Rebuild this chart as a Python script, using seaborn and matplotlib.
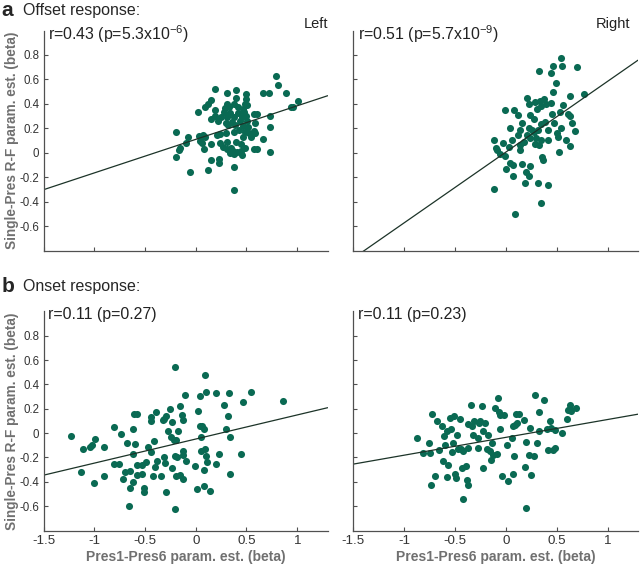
import matplotlib
matplotlib.use("Agg")
import matplotlib.pyplot as plt
import numpy as np
import seaborn as sns

sns.set_theme(style="ticks")
plt.rcParams['font.family'] = ['Liberation Sans', 'DejaVu Sans']
plt.rcParams['mathtext.fontset'] = 'custom'
plt.rcParams['mathtext.rm'] = 'Liberation Sans'
plt.rcParams['mathtext.it'] = 'Liberation Sans:italic'

# offset response, left hemisphere
off_left_x = [0.795, 0.812, 0.894, 1.009, 0.937, 0.96, 0.661, 0.72, 0.187, 0.312,
              0.397, 0.397, 0.499, 0.496, 0.489, 0.147, 0.121, 0.095, 0.022, 0.312,
              0.286, 0.332, 0.378, 0.414, 0.463, 0.509, 0.187, 0.279, 0.338, 0.417,
              0.476, 0.193, 0.253, 0.312, 0.374, 0.457, 0.499, 0.572, 0.605, 0.73,
              0.151, 0.22, 0.295, 0.358, 0.437, 0.506, 0.588, 0.318, 0.391, 0.463,
              0.513, 0.736, -0.195, -0.08, 0.029, 0.072, 0.088, 0.21, 0.243, 0.299,
              0.381, 0.424, 0.489, 0.529, 0.572, 0.588, 0.466, 0.549, 0.664, -0.159,
              -0.168, -0.093, 0.042, 0.062, 0.154, 0.243, 0.309, 0.401, 0.443, 0.272,
              0.309, 0.351, 0.371, 0.404, 0.443, 0.489, 0.572, 0.605, 0.733, -0.195,
              0.082, 0.335, 0.381, 0.457, 0.147, 0.233, 0.226, -0.053, 0.118, 0.381,
              0.381]
off_left_y = [0.626, 0.556, 0.491, 0.426, 0.377, 0.377, 0.491, 0.491, 0.523, 0.488,
              0.51, 0.45, 0.48, 0.442, 0.401, 0.429, 0.396, 0.374, 0.336, 0.396,
              0.366, 0.377, 0.396, 0.374, 0.355, 0.388, 0.35, 0.334, 0.328, 0.328,
              0.334, 0.304, 0.296, 0.296, 0.293, 0.293, 0.304, 0.315, 0.32, 0.301,
              0.28, 0.263, 0.247, 0.252, 0.258, 0.26, 0.247, 0.225, 0.225, 0.22,
              0.212, 0.212, 0.168, 0.133, 0.139, 0.144, 0.128, 0.144, 0.155, 0.166,
              0.171, 0.19, 0.171, 0.166, 0.177, 0.166, 0.128, 0.128, 0.117, 0.044,
              0.022, 0.082, 0.095, 0.084, 0.074, 0.084, 0.09, 0.09, 0.076, 0.049,
              0.036, 0.041, 0.019, 0.008, 0.019, 0.041, 0.036, 0.033, 0.011, -0.032,
              0.03, 0.003, -0.005, -0.013, -0.057, -0.046, -0.086, -0.154, -0.143, -0.114,
              -0.306]

# offset response, right hemisphere
off_right_x = [0.546, 0.553, 0.461, 0.70, 0.329, 0.447, 0.49, 0.464, 0.635, 0.773,
               0.208, 0.379, 0.333, 0.283, 0.231, 0.398, 0.444, 0.349, 0.306, -0.006,
               0.08, 0.562, 0.454, 0.53, 0.608, 0.635, 0.241, 0.119, 0.28, 0.158,
               0.349, 0.388, 0.477, 0.651, 0.037, 0.136, 0.224, 0.257, 0.273, 0.313,
               0.411, 0.546, 0.503, 0.684, 0.119, 0.208, 0.241, 0.296, 0.349, 0.414,
               0.513, 0.592, -0.121, 0.06, 0.175, 0.283, 0.323, 0.142, -0.032, -0.094,
               0.027, 0.628, -0.088, 0.142, 0.526, -0.055, -0.012, 0.355, 0.365, 0.044,
               0.067, 0.158, 0.241, 0.004, 0.201, 0.224, 0.07, 0.191, 0.313, 0.411,
               -0.121, 0.346, 0.086]
off_right_y = [0.775, 0.713, 0.713, 0.70, 0.667, 0.651, 0.572, 0.494, 0.469, 0.483,
               0.45, 0.442, 0.428, 0.415, 0.401, 0.401, 0.407, 0.38, 0.361, 0.353,
               0.347, 0.388, 0.32, 0.331, 0.315, 0.298, 0.312, 0.307, 0.279, 0.244,
               0.233, 0.252, 0.244, 0.244, 0.206, 0.19, 0.206, 0.19, 0.171, 0.185,
               0.185, 0.206, 0.163, 0.179, 0.144, 0.144, 0.125, 0.125, 0.109, 0.109,
               0.13, 0.109, 0.109, 0.103, 0.09, 0.076, 0.063, 0.063, 0.082, 0.044,
               0.049, 0.057, 0.022, 0.027, 0.008, -0.005, -0.027, -0.032, -0.059, -0.086,
               -0.1, -0.094, -0.108, -0.135, -0.154, -0.189, -0.189, -0.249, -0.249, -0.262,
               -0.298, -0.412, -0.501]

# onset response, left hemisphere
on_left_x = [-1.23, -1.115, -1.131, -0.993, -1.023, -1.042, -0.999, -0.90, -0.904, -0.801,
             -0.805, -0.752, -0.739, -0.712, -0.696, -0.68, -0.647, -0.653, -0.647, -0.62,
             -0.62, -0.604, -0.574, -0.597, -0.62, -0.58, -0.574, -0.525, -0.532, -0.509,
             -0.492, -0.505, -0.472, -0.442, -0.439, -0.416, -0.406, -0.422, -0.439, -0.39,
             -0.383, -0.34, -0.327, -0.317, -0.317, -0.307, -0.294, -0.291, -0.274, -0.258,
             -0.245, -0.235, -0.235, -0.218, -0.208, -0.208, -0.202, -0.195, -0.195, -0.185,
             -0.175, -0.159, -0.153, -0.136, -0.126, -0.126, -0.126, -0.123, -0.11, -0.1,
             -0.004, 0.012, 0.019, 0.039, 0.045, 0.052, 0.055, 0.065, 0.078, 0.078,
             0.078, 0.088, 0.095, 0.101, 0.105, 0.114, 0.137, 0.2, 0.203, 0.226,
             0.282, 0.299, 0.318, 0.332, 0.335, 0.335, 0.447, 0.464, 0.549, 0.859]
on_left_y = [-0.022, -0.129, -0.323, -0.049, -0.101, -0.11, -0.411, -0.11, -0.351, 0.047,
             -0.255, -0.255, -0.005, -0.378, -0.321, -0.082, -0.315, -0.597, -0.452, 0.033,
             -0.17, 0.156, 0.156, -0.088, -0.403, -0.342, -0.26, -0.337, -0.26, -0.452,
             -0.241, -0.485, -0.118, 0.129, 0.101, -0.068, -0.282, -0.356, -0.156, 0.17,
             -0.233, -0.351, 0.11, 0.118, -0.197, -0.247, 0.137, -0.485, 0.014, 0.2,
             -0.036, -0.288, 0.09, -0.055, 0.54, -0.186, -0.625, -0.356, -0.055, -0.2,
             0.019, 0.219, -0.342, 0.145, 0.104, -0.145, -0.178, -0.375, 0.31, -0.233,
             -0.274, -0.46, 0.178, 0.055, 0.307, -0.145, -0.036, 0.055, 0.033, -0.301,
             -0.438, -0.129, 0.479, 0.337, -0.192, -0.241, -0.479, -0.255, 0.329, -0.173,
             0.233, 0.033, 0.137, 0.329, -0.033, -0.334, -0.17, 0.252, 0.337, 0.266]

# onset response, right hemisphere
on_right_x = [-0.878, -0.73, -0.753, -0.819, -0.747, -0.737, -0.697, -0.681, -0.655, -0.632,
              -0.622, -0.609, -0.599, -0.582, -0.576, -0.572, -0.549, -0.539, -0.533, -0.516,
              -0.507, -0.5, -0.49, -0.477, -0.467, -0.451, -0.441, -0.434, -0.418, -0.395,
              -0.385, -0.368, -0.424, -0.375, -0.368, -0.345, -0.336, -0.319, -0.309, -0.276,
              -0.27, -0.26, -0.253, -0.237, -0.227, -0.22, -0.204, -0.188, -0.171, -0.155,
              -0.145, -0.138, -0.122, -0.105, -0.089, -0.082, -0.072, -0.056, -0.056, -0.039,
              -0.023, 0.016, 0.026, 0.059, 0.069, 0.069, 0.076, 0.092, 0.102, 0.109,
              0.125, 0.181, 0.191, 0.197, 0.197, 0.23, 0.24, 0.25, 0.273, 0.283,
              0.306, 0.322, 0.329, 0.378, 0.405, 0.411, 0.438, 0.441, 0.464, 0.48,
              0.487, 0.553, 0.602, 0.612, 0.628, 0.635, 0.645, 0.694]
on_right_y = [-0.041, 0.156, -0.082, -0.164, -0.164, -0.429, -0.355, 0.101, -0.137, 0.055,
              -0.227, -0.027, -0.096, 0.014, -0.363, -0.26, 0.128, 0.036, -0.158, -0.082,
              0.142, -0.336, -0.369, -0.014, -0.128, 0.115, -0.128, -0.287, -0.145, -0.273,
              -0.383, -0.429, -0.541, 0.077, -0.123, 0.232, 0.055, -0.014, 0.096, -0.123,
              -0.041, 0.082, 0.096, 0.224, -0.287, 0.014, 0.082, -0.128, -0.014, -0.15,
              -0.219, -0.082, -0.178, 0.205, -0.172, 0.287, 0.172, 0.15, 0.036, -0.355,
              0.145, -0.101, -0.391, -0.041, 0.055, -0.336, -0.186, 0.063, 0.156, 0.082,
              0.156, 0.109, -0.281, -0.615, -0.077, -0.183, 0.046, -0.342, -0.191, 0.309,
              -0.082, 0.172, 0.014, 0.273, 0.036, -0.137, 0.096, 0.041, -0.137, -0.123,
              0.027, 0.0, 0.117, 0.191, 0.227, 0.199, 0.178, 0.21]

stats = ['r=0.43 (p=5.3x10$^{-6}$)', 'r=0.51 (p=5.7x10$^{-9}$)',
         'r=0.11 (p=0.27)', 'r=0.11 (p=0.23)']
xticks = [-1.5, -1, -0.5, 0, 0.5, 1]
xticklabels = ['-1.5', '-1', '-0.5', '0', '0.5', '1']
yticks = [-0.6, -0.4, -0.2, 0, 0.2, 0.4, 0.6, 0.8]
yticklabels = ['-0.6', '-0.4', '-0.2', '0', '0.2', '0.4', '0.6', '0.8']

dot_color = '#0a6a53'
line_color = '#1c3328'
label_gray = '#707070'

fig = plt.figure(figsize=(6.4, 5.65), dpi=100)
positions = [[0.068, 0.556, 0.444, 0.390], [0.552, 0.556, 0.445, 0.390],
             [0.068, 0.061, 0.444, 0.388], [0.552, 0.061, 0.445, 0.388]]
data = [(off_left_x, off_left_y), (off_right_x, off_right_y),
        (on_left_x, on_left_y), (on_right_x, on_right_y)]

for i, (pos, (xs, ys)) in enumerate(zip(positions, data)):
    ax = fig.add_axes(pos)
    ax.set_xlim(-1.5, 1.3)
    ax.set_ylim(-0.8, 1.0)
    sns.regplot(x=np.array(xs), y=np.array(ys), ax=ax, ci=None, truncate=False,
                scatter_kws=dict(s=26, color=dot_color, linewidths=0, alpha=1),
                line_kws=dict(color=line_color, lw=0.9))
    ax.set_xlim(-1.5, 1.3)
    ax.set_ylim(-0.8, 1.0)
    sns.despine(ax=ax)
    for s in ['left', 'bottom']:
        ax.spines[s].set_color('#505050')
        ax.spines[s].set_linewidth(0.9)
    ax.tick_params(direction='in', length=3, width=0.8, color='#505050',
                   labelcolor='#333333')
    ax.tick_params(axis='y', labelsize=8.3, pad=3)
    ax.tick_params(axis='x', labelsize=9.6, pad=3.5)
    ax.set_xticks(xticks)
    ax.set_yticks(yticks)
    if i >= 2:
        ax.set_xticklabels(xticklabels)
        ax.set_xlabel('Pres1-Pres6 param. est. (beta)', fontsize=10,
                      fontweight='bold', color=label_gray, labelpad=2)
    else:
        ax.set_xticklabels([])
        ax.set_xlabel('')
    if i % 2 == 0:
        ax.set_yticklabels(yticklabels)
        ax.set_ylabel('Single-Pres R-F param. est. (beta)', fontsize=9.8,
                      fontweight='bold', color=label_gray, labelpad=0.5)
    else:
        ax.set_yticklabels([])
        ax.set_ylabel('')
    ax.text(0.015, 0.985, stats[i], transform=ax.transAxes, fontsize=11.4,
            color='#222222', ha='left', va='center')

fig.text(0.002, 0.981, 'a', fontsize=15, fontweight='bold', va='center', ha='left')
fig.text(0.036, 0.981, 'Offset response:', fontsize=11.5, va='center', ha='left')
fig.text(0.002, 0.493, 'b', fontsize=15, fontweight='bold', va='center', ha='left')
fig.text(0.036, 0.493, 'Onset response:', fontsize=11.5, va='center', ha='left')
fig.text(0.513, 0.958, 'Left', fontsize=10.5, ha='right', va='center', color='#222222')
fig.text(0.985, 0.958, 'Right', fontsize=10.5, ha='right', va='center', color='#222222')

fig.savefig('out.png', dpi=100)
